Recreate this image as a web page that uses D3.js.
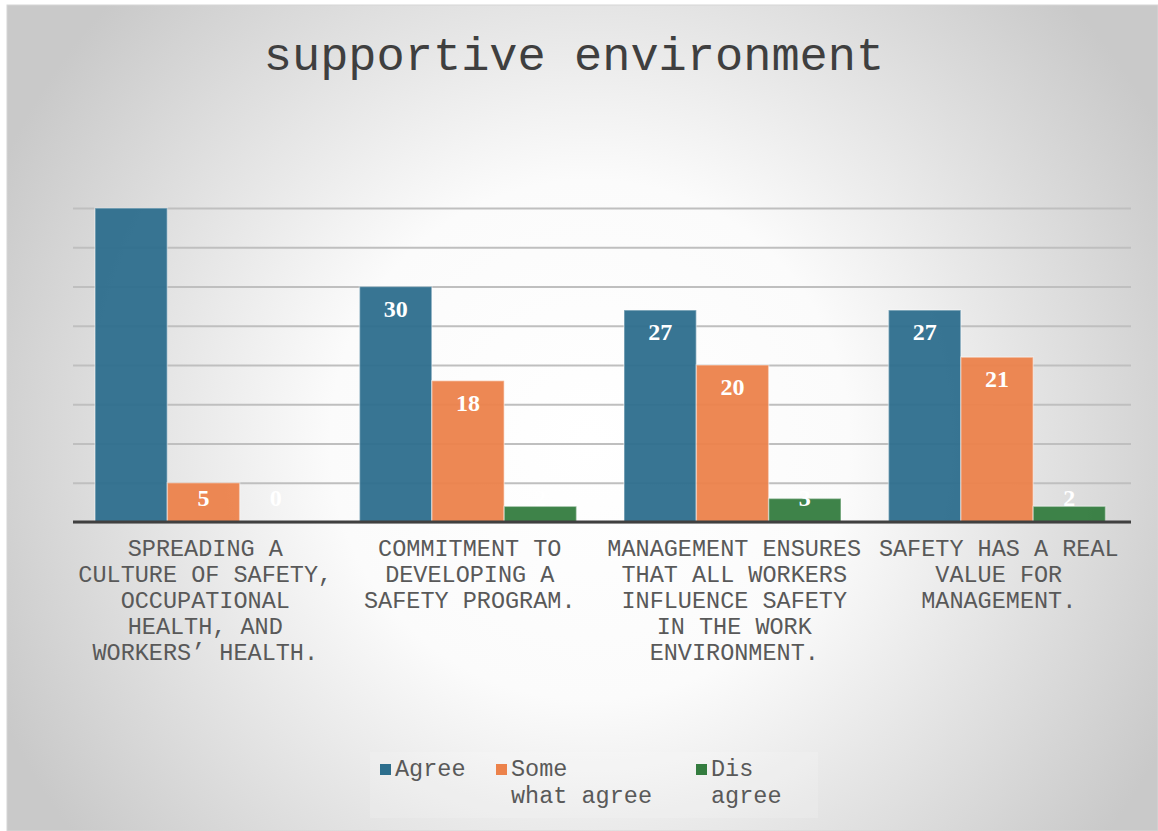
<!DOCTYPE html>
<html>
<head>
<meta charset="utf-8">
<script src="https://cdn.jsdelivr.net/npm/d3@7"></script>
<style>
  body { margin: 0; background: #fff; }
  svg { display: block; }
</style>
</head>
<body>
<svg id="chart" width="1158" height="831"></svg>
<script>
const categories = [
  "SPREADING A|CULTURE OF SAFETY,|OCCUPATIONAL|HEALTH, AND|WORKERS\u2019 HEALTH.",
  "COMMITMENT TO|DEVELOPING A|SAFETY PROGRAM.",
  "MANAGEMENT ENSURES|THAT ALL WORKERS|INFLUENCE SAFETY|IN THE WORK|ENVIRONMENT.",
  "SAFETY HAS A REAL|VALUE FOR|MANAGEMENT."
];
const seriesNames = ["Agree", "Some|what agree", "Dis|agree"];
const agree = [40, 30, 27, 27];
const somewhatAgree = [5, 18, 20, 21];
const disagree = [0, 2, 3, 2];
const yTicks = [0, 5, 10, 15, 20, 25, 30, 35, 40];
const colors = ["#2d6e8d", "#ec824b", "#347c3f"];

const series = [agree, somewhatAgree, disagree];

const margin = { top: 208, bottom: 309, left: 73, right: 27 };
const W = 1158, H = 831;

const svg = d3.select("#chart");

// background gradient
const defs = svg.append("defs");
const grad = defs.append("radialGradient")
  .attr("id", "bg")
  .attr("gradientUnits", "userSpaceOnUse")
  .attr("cx", 590).attr("cy", 440).attr("r", 650);
grad.append("stop").attr("offset", "0%").attr("stop-color", "#ffffff");
grad.append("stop").attr("offset", "40%").attr("stop-color", "#fbfbfb");
grad.append("stop").attr("offset", "100%").attr("stop-color", "#c9c9c9");

svg.append("rect")
  .attr("x", 7).attr("y", 5)
  .attr("width", W - 7).attr("height", H - 5)
  .attr("fill", "url(#bg)")
  .attr("stroke", "#d6d6d6");

const mono = "'Courier New', 'Liberation Mono', monospace";

// title
svg.append("text")
  .attr("x", 574).attr("y", 70)
  .attr("text-anchor", "middle")
  .attr("font-family", mono)
  .attr("font-size", 47)
  .attr("fill", "#3f3f3f")
  .text("supportive environment");

const x0 = d3.scaleBand()
  .domain(d3.range(categories.length))
  .range([margin.left, W - margin.right]);

const x1 = d3.scaleBand()
  .domain(d3.range(series.length))
  .range([22, 239]);

const y = d3.scaleLinear()
  .domain([0, 40])
  .range([H - margin.bottom, margin.top]);

// gridlines
const yAxis = d3.axisLeft(y)
  .tickValues(yTicks)
  .tickSize(-(W - margin.left - margin.right))
  .tickFormat("");
const gy = svg.append("g")
  .attr("transform", "translate(" + margin.left + ",0)")
  .call(yAxis);
gy.select(".domain").remove();
gy.selectAll("line").attr("stroke", "#bfbfbf").attr("stroke-width", 2);

// bars
const groups = svg.selectAll(".grp")
  .data(categories)
  .enter()
  .append("g")
  .attr("class", "grp")
  .attr("transform", (d, i) => "translate(" + x0(i) + ",0)");

groups.selectAll("rect")
  .data((d, i) => series.map((s, j) => ({ j: j, v: s[i] })))
  .enter()
  .append("rect")
  .filter(d => d.v > 0)
  .attr("x", d => x1(d.j))
  .attr("y", d => y(d.v))
  .attr("width", x1.bandwidth())
  .attr("height", d => y(0) - y(d.v))
  .attr("fill", d => colors[d.j])
  .attr("fill-opacity", 0.95)
  .attr("stroke", "#ffffff")
  .attr("stroke-opacity", 0.4)
  .attr("stroke-width", 1.5);

// data labels (the 40 label is not shown in the original)
groups.selectAll(".lbl")
  .data((d, i) => series.map((s, j) => ({ i: i, j: j, v: s[i] })))
  .enter()
  .append("text")
  .filter(d => !(d.i === 0 && d.j === 0))
  .attr("class", "lbl")
  .attr("x", d => x1(d.j) + x1.bandwidth() / 2)
  .attr("y", d => Math.min(y(d.v) + 30, y(0) - 16))
  .attr("text-anchor", "middle")
  .attr("font-family", "'Liberation Serif', 'Times New Roman', serif")
  .attr("font-weight", "bold")
  .attr("font-size", 24)
  .attr("fill", "#ffffff")
  .text(d => d.v);

// baseline
svg.append("line")
  .attr("x1", margin.left).attr("x2", W - margin.right)
  .attr("y1", y(0)).attr("y2", y(0))
  .attr("stroke", "#404040")
  .attr("stroke-width", 3);

// category labels
categories.forEach((c, i) => {
  const t = svg.append("text")
    .attr("text-anchor", "middle")
    .attr("font-family", mono)
    .attr("font-size", 23.5)
    .attr("fill", "#595959");
  c.split("|").forEach((line, k) => {
    t.append("tspan")
      .attr("x", x0(i) + x0.bandwidth() / 2)
      .attr("y", 556 + k * 26)
      .text(line);
  });
});

// legend
const legend = svg.append("g");
legend.append("rect")
  .attr("x", 370).attr("y", 752)
  .attr("width", 448).attr("height", 66)
  .attr("fill", "#ffffff").attr("fill-opacity", 0.15);
const legendX = [380, 496, 696];
seriesNames.forEach((name, j) => {
  legend.append("rect")
    .attr("x", legendX[j]).attr("y", 764)
    .attr("width", 11).attr("height", 11)
    .attr("fill", colors[j]);
  const t = legend.append("text")
    .attr("font-family", mono)
    .attr("font-size", 23.5)
    .attr("fill", "#595959");
  name.split("|").forEach((line, k) => {
    t.append("tspan")
      .attr("x", legendX[j] + 15)
      .attr("y", 776 + k * 27)
      .text(line);
  });
});
</script>
</body>
</html>
